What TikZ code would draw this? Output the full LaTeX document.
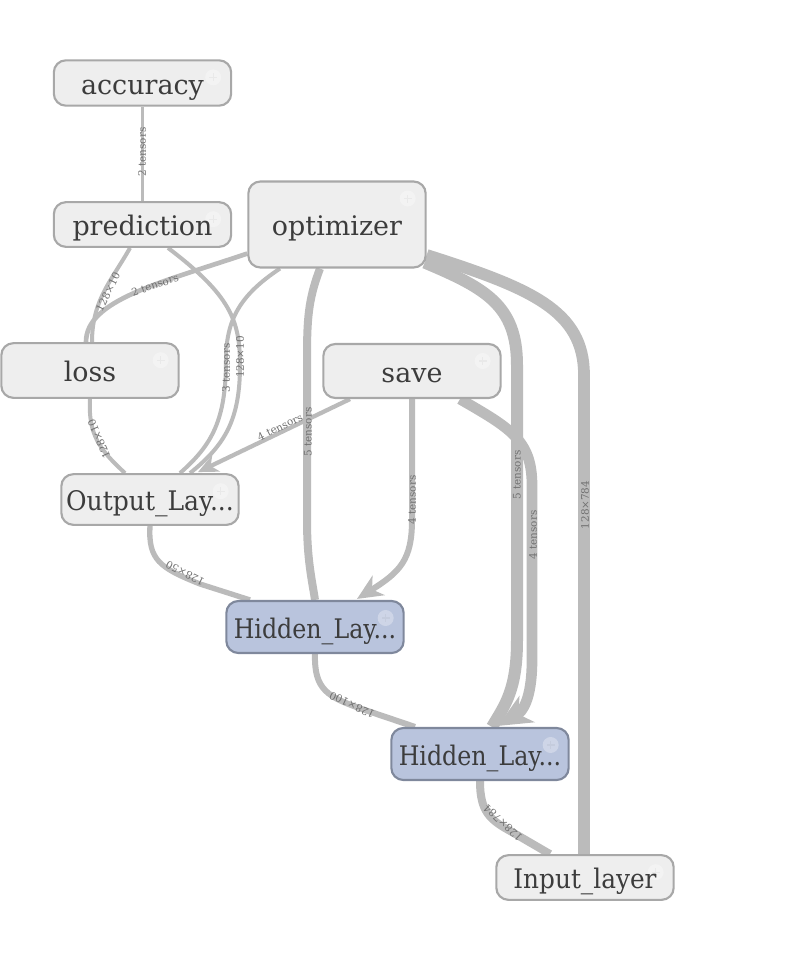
\documentclass[tikz,border=0pt]{standalone}
\usepackage{fontspec}
\usepackage{graphicx}
\setmainfont{DejaVu Serif}
\usetikzlibrary{arrows.meta,backgrounds,calc}
\definecolor{edgec}{HTML}{BBBBBB}
\definecolor{nodefill}{HTML}{EEEEEE}
\definecolor{nodeborder}{HTML}{A8A8A8}
\definecolor{bluefill}{HTML}{B9C4DD}
\definecolor{blueborder}{HTML}{7F889C}
\definecolor{textc}{HTML}{3C3C3C}
\definecolor{labc}{HTML}{707070}
\begin{document}
\begin{tikzpicture}[x=0.75pt,y=-0.75pt,
  expicon/.style={path picture={
      \fill[white, opacity=0.3] ($(path picture bounding box.north east)+(-18,17)$) circle (8);
      \draw[black, opacity=0.04, line width=0.9pt]
        ($(path picture bounding box.north east)+(-22,17)$) -- ++(8,0)
        ($(path picture bounding box.north east)+(-18,13)$) -- ++(0,8);}},
  opnode/.style={draw=nodeborder, fill=nodefill, line width=1.6pt, rounded corners=9pt,
    minimum width=133pt, inner sep=0pt, text=textc, font=\fontsize{20.2}{24}\selectfont,
    text height=19.5pt, text depth=3pt, expicon},
  bluenode/.style={opnode, draw=blueborder, fill=bluefill},
  edge/.style={draw=edgec, line cap=butt},
  lab/.style={text=labc, font=\fontsize{7.8}{9}\selectfont, inner sep=0pt},
  tip/.style={-{Stealth[length=#1, width=#1*0.9, inset=#1*0.3]}}
]
\useasboundingbox (0,0) rectangle (795,960);

% nodes
\node[opnode, minimum height=34pt] (acc) at (142.5,83) {accuracy};
\node[opnode, minimum height=33.5pt] (pred) at (142.5,224.5) {prediction};
\node[opnode, minimum height=64.5pt] (opt) at (337,224.5) {optimizer};
\node[opnode, minimum height=41pt] (loss) at (90,370.5) {loss};
\node[opnode, minimum height=40.5pt] (save) at (412,371) {save};
\node[opnode, minimum height=38pt] (out) at (150,499.5) {\scalebox{0.93}[1]{Output\_Lay...}};
\node[bluenode, minimum height=39pt] (hid1) at (315,627) {\scalebox{0.88}[1]{Hidden\_Lay...}};
\node[bluenode, minimum height=39pt] (hid2) at (480,754) {\scalebox{0.88}[1]{Hidden\_Lay...}};
\node[opnode, minimum height=33.5pt] (inp) at (585,877.5) {\scalebox{0.92}[1]{Input\_layer}};

\begin{pgfonlayer}{background}
% accuracy - prediction
\draw[edge, line width=2.2pt] (acc.south) -- (pred.north);
% prediction - loss
\draw[edge, line width=3pt] ($(pred.south)+(-12.5,0)$) .. controls (112,280) and (92,300) .. ($(loss.north)+(2,0)$);
% optimizer - loss
\draw[edge, line width=3.5pt] ($(opt.south west)+(0,-15)$) .. controls (160,283) and (86,300) .. ($(loss.north)+(-4,0)$);
% prediction - output
\draw[edge, line width=3pt] ($(pred.south)+(25.5,0)$) .. controls (230,295) and (240,320) .. (240,365) .. controls (240,420) and (225,445) .. ($(out.north)+(40,0)$);
% optimizer - output
\draw[edge, line width=3pt] ($(opt.south)+(-57,0)$) .. controls (240,295) and (226,320) .. (226,360) .. controls (226,420) and (212,445) .. ($(out.north)+(30,0)$);
% loss - output
\draw[edge, line width=3pt] (loss.south) .. controls (88,435) and (100,450) .. ($(out.north)+(-25,0)$);
% save - output
\draw[edge, line width=3.2pt, tip=15pt] ($(save.south)+(-62,0)$) -- ($(out.north)+(48,-1)$);
% output - hidden1
\draw[edge, line width=4pt] (out.south) .. controls (148,560) and (160,568) .. (200,584) -- ($(hid1.north)+(-65,0)$);
% optimizer - hidden1
\draw[edge, line width=6pt] ($(opt.south)+(-17,0)$) .. controls (308,300) and (307,320) .. (307,360) -- (307,520) .. controls (307,560) and (312,580) .. (hid1.north);
% save - hidden1
\draw[edge, line width=4.5pt, tip=19pt] (save.south) -- (412,520) .. controls (412,560) and (400,572) .. ($(hid1.north)+(42,-1)$);
% optimizer - hidden2
\draw[edge, line width=9pt] ($(opt.south east)+(-2,-6)$) .. controls (485,288) and (517,305) .. (517,365) -- (517,640) .. controls (517,690) and (505,705) .. ($(hid2.north)+(12,0)$);
% save - hidden2
\draw[edge, line width=8pt, tip=25pt] ($(save.south)+(48,0)$) .. controls (510,428) and (532,440) .. (532,485) -- (532,660) .. controls (532,700) and (522,712) .. ($(hid2.north)+(18,-1)$);
% optimizer - input
\draw[edge, line width=8.8pt] ($(opt.east)+(0,30.5)$) .. controls (530,288) and (584,310) .. (584,375) -- ($(inp.north)+(-1,0)$);
% hidden1 - hidden2
\draw[edge, line width=4.5pt] (hid1.south) .. controls (314,690) and (328,697) .. (362,709) -- ($(hid2.north)+(-65,0)$);
% hidden2 - input
\draw[edge, line width=6pt] (hid2.south) .. controls (480,812) and (490,820) .. (512,832) -- ($(inp.north)+(-35,0)$);

% labels
\node[lab, rotate=90] (l1) at (142,152) {2 tensors};
\node[lab, rotate=64] (l2) at (108,292) {128×10};
\node[lab, rotate=19] (l3) at (155,285) {2 tensors};
\node[lab, rotate=90] (l4) at (240,357) {128×10};
\node[lab, rotate=90] (l5) at (226,368) {3 tensors};
\node[lab, rotate=26] (l6) at (280,427) {4 tensors};
\node[lab, rotate=113] (l7) at (99,439) {128×10};
\node[lab, rotate=153] (l8) at (185,573) {128×50};
\node[lab, rotate=90] (l9) at (308,432) {5 tensors};
\node[lab, rotate=90] (l10) at (412,500) {4 tensors};
\node[lab, rotate=90] (l11) at (517,475) {5 tensors};
\node[lab, rotate=90] (l12) at (533,535) {4 tensors};
\node[lab, rotate=90] (l13) at (585,505) {128×784};
\node[lab, rotate=155] (l14) at (352,705) {128×100};
\node[lab, rotate=137] (l15) at (503,823) {128×784};
\end{pgfonlayer}
\end{tikzpicture}
\end{document}
